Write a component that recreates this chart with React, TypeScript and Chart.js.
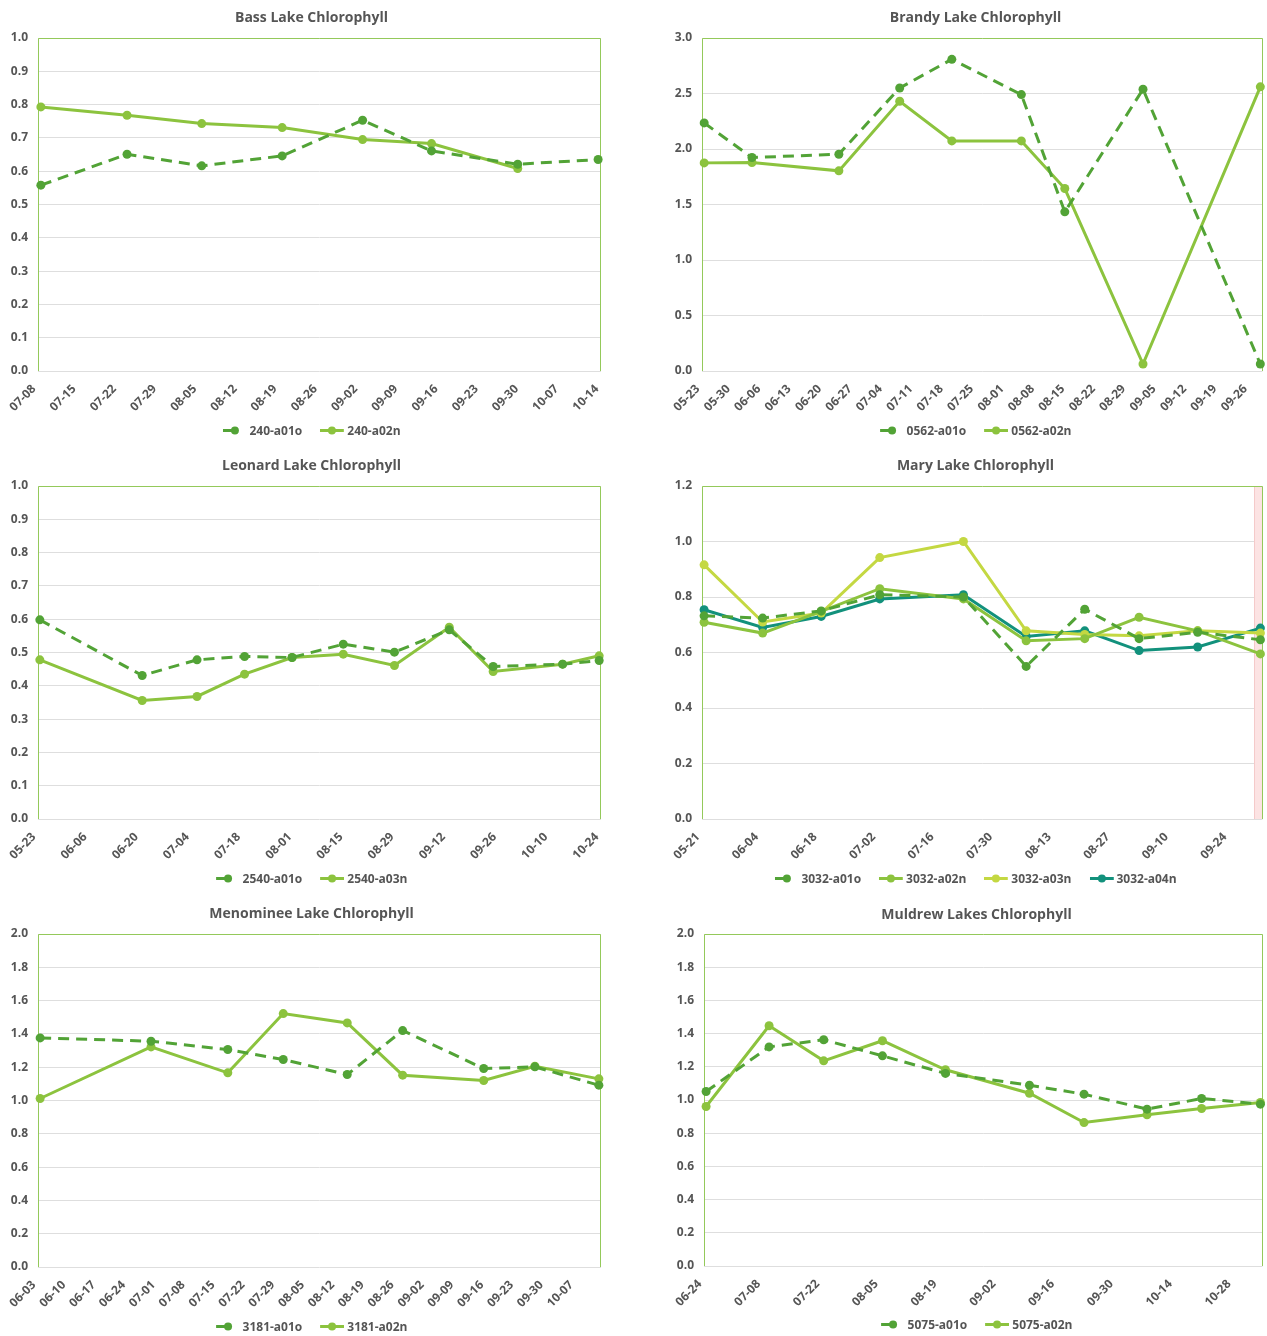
import React, { useEffect, useRef } from "react";
import { Chart, registerables } from "chart.js";

Chart.register(...registerables);

// ---------- DATA ----------
const bassDatesO = ["07-08", "07-23", "08-05", "08-19", "09-02", "09-14", "09-29", "10-13"];
const bassValuesO = [0.558, 0.651, 0.616, 0.646, 0.753, 0.661, 0.621, 0.635];
const bassDatesN = ["07-08", "07-23", "08-05", "08-19", "09-02", "09-14", "09-29"];
const bassValuesN = [0.793, 0.768, 0.743, 0.731, 0.695, 0.683, 0.608];

const brandyDates = ["05-23", "06-03", "06-23", "07-07", "07-19", "08-04", "08-14", "09-01", "09-28"];
const brandyValuesO = [2.235, 1.923, 1.953, 2.55, 2.808, 2.49, 1.434, 2.538, 0.063];
const brandyValuesN = [1.875, 1.878, 1.803, 2.43, 2.073, 2.073, 1.644, 0.063, 2.56];

const leonardDates = ["05-23", "06-20", "07-05", "07-18", "07-31", "08-14", "08-28", "09-12", "09-24", "10-13", "10-23"];
const leonardValuesO = [0.598, 0.431, 0.478, 0.488, 0.485, 0.525, 0.501, 0.568, 0.458, 0.465, 0.476];
const leonardValuesN = [0.478, 0.356, 0.368, 0.435, 0.485, 0.495, 0.461, 0.576, 0.443, 0.465, 0.49];

const maryDates = ["05-21", "06-04", "06-18", "07-02", "07-22", "08-06", "08-20", "09-02", "09-16", "10-01"];
const maryValues01o = [0.732, 0.724, 0.75, 0.808, 0.8, 0.55, 0.756, 0.65, 0.673, 0.646];
const maryValues02n = [0.709, 0.67, 0.748, 0.83, 0.793, 0.642, 0.65, 0.727, 0.678, 0.595];
const maryValues03n = [0.916, 0.71, 0.742, 0.942, 1.0, 0.678, 0.665, 0.66, 0.678, 0.67];
const maryValues04n = [0.754, 0.69, 0.73, 0.793, 0.808, 0.658, 0.678, 0.607, 0.62, 0.688];
const maryBand = ["09-30", "10-02"];

const menomineeDates = ["06-03", "06-29", "07-17", "07-30", "08-14", "08-27", "09-15", "09-27", "10-12"];
const menomineeValuesO = [1.376, 1.356, 1.306, 1.246, 1.156, 1.42, 1.192, 1.202, 1.092];
const menomineeValuesN = [1.012, 1.322, 1.166, 1.522, 1.466, 1.152, 1.12, 1.206, 1.13];

const muldrewDates = ["06-24", "07-09", "07-22", "08-05", "08-20", "09-09", "09-22", "10-07", "10-20", "11-03"];
const muldrewValuesO = [1.051, 1.32, 1.363, 1.266, 1.16, 1.089, 1.035, 0.945, 1.009, 0.975];
const muldrewValuesN = [0.961, 1.447, 1.236, 1.357, 1.182, 1.041, 0.864, 0.911, 0.949, 0.985];

// ---------- STYLE ----------
const C_O = "#52a336";
const C_N = "#8cc33e";
const C_03 = "#c4d842";
const C_04 = "#12917c";
const GRID = "#dedede";
const FRAME = "#94c95a";
const TEXT = "#555555";
const FONT = "'Open Sans', 'DejaVu Sans', sans-serif";
const XH = 58;

type Series = { label: string; dates: string[]; values: number[]; color: string; dashed: boolean };
type Spec = {
  title: string;
  cell: { x: number; y: number; w: number; h: number };
  plot: { l: number; r: number; t: number; b: number };
  titleY: number;
  legendY: number;
  axisStart: string;
  axisEnd: string;
  step: number;
  yMax: number;
  yStep: number;
  series: Series[];
  band?: string[];
};

function dayOf(s: string) {
  const [m, d] = s.split("-").map(Number);
  return Math.round(Date.UTC(2021, m - 1, d) / 86400000);
}
function fmt(day: number) {
  const dt = new Date(Math.round(day) * 86400000);
  const m = String(dt.getUTCMonth() + 1).padStart(2, "0");
  const d = String(dt.getUTCDate()).padStart(2, "0");
  return `${m}-${d}`;
}

const specs: Spec[] = [
  {
    title: "Bass Lake Chlorophyll",
    cell: { x: 0, y: 0, w: 633, h: 448 },
    plot: { l: 38, r: 601, t: 38, b: 371 },
    titleY: 16, legendY: 430,
    axisStart: "07-08", axisEnd: "10-14", step: 7, yMax: 1.0, yStep: 0.1,
    series: [
      { label: "240-a01o", dates: bassDatesO, values: bassValuesO, color: C_O, dashed: true },
      { label: "240-a02n", dates: bassDatesN, values: bassValuesN, color: C_N, dashed: false },
    ],
  },
  {
    title: "Brandy Lake Chlorophyll",
    cell: { x: 633, y: 0, w: 634, h: 448 },
    plot: { l: 702, r: 1265, t: 38, b: 371 },
    titleY: 16, legendY: 430,
    axisStart: "05-23", axisEnd: "09-29", step: 7, yMax: 3.0, yStep: 0.5,
    series: [
      { label: "0562-a01o", dates: brandyDates, values: brandyValuesO, color: C_O, dashed: true },
      { label: "0562-a02n", dates: brandyDates, values: brandyValuesN, color: C_N, dashed: false },
    ],
  },
  {
    title: "Leonard Lake Chlorophyll",
    cell: { x: 0, y: 448, w: 633, h: 448 },
    plot: { l: 38, r: 601, t: 486, b: 819 },
    titleY: 464, legendY: 878,
    axisStart: "05-23", axisEnd: "10-24", step: 14, yMax: 1.0, yStep: 0.1,
    series: [
      { label: "2540-a01o", dates: leonardDates, values: leonardValuesO, color: C_O, dashed: true },
      { label: "2540-a03n", dates: leonardDates, values: leonardValuesN, color: C_N, dashed: false },
    ],
  },
  {
    title: "Mary Lake Chlorophyll",
    cell: { x: 633, y: 448, w: 634, h: 448 },
    plot: { l: 702, r: 1265, t: 486, b: 819 },
    titleY: 464, legendY: 878,
    axisStart: "05-21", axisEnd: "10-02", step: 14, yMax: 1.2, yStep: 0.2,
    band: maryBand,
    series: [
      { label: "3032-a01o", dates: maryDates, values: maryValues01o, color: C_O, dashed: true },
      { label: "3032-a02n", dates: maryDates, values: maryValues02n, color: C_N, dashed: false },
      { label: "3032-a03n", dates: maryDates, values: maryValues03n, color: C_03, dashed: false },
      { label: "3032-a04n", dates: maryDates, values: maryValues04n, color: C_04, dashed: false },
    ],
  },
  {
    title: "Menominee Lake Chlorophyll",
    cell: { x: 0, y: 896, w: 633, h: 440 },
    plot: { l: 38, r: 601, t: 934, b: 1267 },
    titleY: 912, legendY: 1326,
    axisStart: "06-03", axisEnd: "10-13", step: 7, yMax: 2.0, yStep: 0.2,
    series: [
      { label: "3181-a01o", dates: menomineeDates, values: menomineeValuesO, color: C_O, dashed: true },
      { label: "3181-a02n", dates: menomineeDates, values: menomineeValuesN, color: C_N, dashed: false },
    ],
  },
  {
    title: "Muldrew Lakes Chlorophyll",
    cell: { x: 633, y: 896, w: 634, h: 440 },
    plot: { l: 704, r: 1265, t: 934, b: 1266 },
    titleY: 913, legendY: 1324,
    axisStart: "06-24", axisEnd: "11-04", step: 14, yMax: 2.0, yStep: 0.2,
    series: [
      { label: "5075-a01o", dates: muldrewDates, values: muldrewValuesO, color: C_O, dashed: true },
      { label: "5075-a02n", dates: muldrewDates, values: muldrewValuesN, color: C_N, dashed: false },
    ],
  },
];

const framePlugin = {
  id: "frame",
  beforeDatasetsDraw(chart: any, _args: any, opts: any) {
    const { ctx, chartArea } = chart;
    const { left, right, top, bottom } = chartArea;
    ctx.save();
    if (opts && opts.band) {
      const xs = chart.scales.x;
      const x0 = xs.getPixelForValue(opts.band[0]);
      const x1 = Math.min(xs.getPixelForValue(opts.band[1]), right);
      ctx.fillStyle = "#fce3e3";
      ctx.fillRect(x0, top, x1 - x0, bottom - top);
      ctx.strokeStyle = "#f5caca";
      ctx.lineWidth = 1;
      ctx.beginPath();
      ctx.moveTo(Math.round(x0) + 0.5, top);
      ctx.lineTo(Math.round(x0) + 0.5, bottom);
      ctx.stroke();
    }
    ctx.strokeStyle = FRAME;
    ctx.lineWidth = 1;
    ctx.beginPath();
    ctx.moveTo(Math.round(left) + 0.5, bottom);
    ctx.lineTo(Math.round(left) + 0.5, Math.round(top) + 0.5);
    ctx.lineTo(Math.round(right) - 0.5, Math.round(top) + 0.5);
    ctx.lineTo(Math.round(right) - 0.5, bottom);
    ctx.stroke();
    ctx.restore();
  },
};

function LineChart({ spec }: { spec: Spec }) {
  const ref = useRef<HTMLCanvasElement>(null);
  useEffect(() => {
    const start = dayOf(spec.axisStart);
    const end = dayOf(spec.axisEnd) - start;
    const { cell, plot } = spec;
    const chart = new Chart(ref.current as HTMLCanvasElement, {
      type: "line",
      data: {
        datasets: spec.series.map((s) => ({
          label: s.label,
          data: s.dates.map((d, i) => ({ x: dayOf(d) - start + 0.5, y: s.values[i] })),
          borderColor: s.color,
          backgroundColor: s.color,
          pointBackgroundColor: s.color,
          pointBorderColor: s.color,
          borderWidth: 3,
          borderDash: s.dashed ? [11, 7] : [],
          pointRadius: 4.5,
          pointBorderWidth: 0,
          tension: 0,
          clip: false as any,
        })),
      },
      options: {
        animation: false,
        responsive: false,
        maintainAspectRatio: false,
        events: [],
        layout: {
          padding: {
            top: plot.t - cell.y,
            right: cell.x + cell.w - plot.r,
            bottom: cell.y + cell.h - plot.b - XH,
            left: 0,
          },
        },
        plugins: {
          legend: { display: false },
          title: { display: false },
          tooltip: { enabled: false },
          frame: { band: spec.band ? spec.band.map((d) => dayOf(d) - start) : null },
        } as any,
        scales: {
          x: {
            type: "linear",
            min: 0,
            max: end,
            afterBuildTicks: (ax: any) => {
              const ticks: { value: number }[] = [];
              for (let v = 0; v <= end + 1e-6; v += spec.step) ticks.push({ value: v });
              ax.ticks = ticks;
            },
            afterFit: (s: any) => {
              s.height = XH;
              s.paddingLeft = 0;
              s.paddingRight = 0;
            },
            ticks: {
              stepSize: spec.step,
              autoSkip: false,
              maxRotation: 45,
              minRotation: 45,
              padding: 11,
              labelOffset: -4,
              color: TEXT,
              font: { family: FONT, size: 12, weight: "bold" as any },
              callback: (v: any) => fmt(start + Number(v)),
            },
            grid: { display: false, drawTicks: false },
            border: { display: false },
          },
          y: {
            min: 0,
            max: spec.yMax,
            afterFit: (s: any) => {
              s.width = plot.l - cell.x;
            },
            ticks: {
              stepSize: spec.yStep,
              padding: 10,
              color: TEXT,
              font: { family: FONT, size: 12, weight: "bold" as any },
              callback: (v: any) => Number(v).toFixed(1),
            },
            grid: { color: GRID, drawTicks: false, lineWidth: 1 },
            border: { display: false },
          },
        },
      },
      plugins: [framePlugin],
    });
    return () => chart.destroy();
  }, [spec]);

  const { cell, plot } = spec;
  const cx = (plot.l + plot.r) / 2 - 8;
  return (
    <>
      <canvas
        ref={ref}
        width={cell.w}
        height={cell.h}
        style={{ position: "absolute", left: cell.x, top: cell.y, width: cell.w, height: cell.h, display: "block" }}
      />
      <div
        style={{
          position: "absolute",
          left: cx,
          top: spec.titleY,
          transform: "translate(-50%, -50%)",
          whiteSpace: "nowrap",
          fontFamily: FONT,
          fontWeight: 700,
          fontSize: 14,
          color: TEXT,
        }}
      >
        {spec.title}
      </div>
      <div
        style={{
          position: "absolute",
          left: cx,
          top: spec.legendY,
          transform: "translate(-50%, -50%)",
          whiteSpace: "nowrap",
          display: "flex",
          alignItems: "center",
          gap: 18,
          fontFamily: FONT,
          fontWeight: 700,
          fontSize: 12,
          color: TEXT,
        }}
      >
        {spec.series.map((s) => (
          <div key={s.label} style={{ display: "flex", alignItems: "center", gap: 3 }}>
            <svg width={24} height={10} style={{ display: "block" }}>
              <line
                x1={0}
                y1={5}
                x2={24}
                y2={5}
                stroke={s.color}
                strokeWidth={3}
                strokeDasharray={s.dashed ? "10 14" : undefined}
              />
              <circle cx={12} cy={5} r={4} fill={s.color} />
            </svg>
            <span>{s.label}</span>
          </div>
        ))}
      </div>
    </>
  );
}

export default function App() {
  return (
    <div style={{ position: "absolute", left: 0, top: 0, width: 1267, height: 1336, background: "#fff", overflow: "hidden" }}>
      {specs.map((s) => (
        <LineChart key={s.title} spec={s} />
      ))}
    </div>
  );
}
